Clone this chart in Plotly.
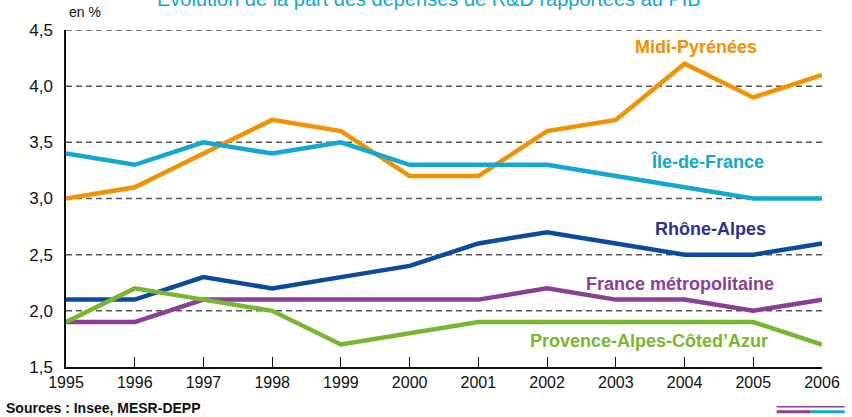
import plotly.graph_objects as go

years = [1995, 1996, 1997, 1998, 1999, 2000, 2001, 2002, 2003, 2004, 2005, 2006]
midi_pyrenees = [3.0, 3.1, 3.4, 3.7, 3.6, 3.2, 3.2, 3.6, 3.7, 4.2, 3.9, 4.1]
ile_de_france = [3.4, 3.3, 3.5, 3.4, 3.5, 3.3, 3.3, 3.3, 3.2, 3.1, 3.0, 3.0]
rhone_alpes = [2.1, 2.1, 2.3, 2.2, 2.3, 2.4, 2.6, 2.7, 2.6, 2.5, 2.5, 2.6]
france_metro = [1.9, 1.9, 2.1, 2.1, 2.1, 2.1, 2.1, 2.2, 2.1, 2.1, 2.0, 2.1]
paca = [1.9, 2.2, 2.1, 2.0, 1.7, 1.8, 1.9, 1.9, 1.9, 1.9, 1.9, 1.7]

y_ticks = [1.5, 2.0, 2.5, 3.0, 3.5, 4.0, 4.5]
y_tick_labels = ["1,5", "2,0", "2,5", "3,0", "3,5", "4,0", "4,5"]

series = [
    ("Midi-Pyrénées", midi_pyrenees, "#F39200", "#F39200", 2004.17, 4.35),
    ("Île-de-France", ile_de_france, "#13A8CF", "#13A8CF", 2004.33, 3.33),
    ("Rhône-Alpes", rhone_alpes, "#0A4BA0", "#2E3192", 2004.38, 2.73),
    ("France métropolitaine", france_metro, "#8B3F97", "#8B3F97", 2003.93, 2.24),
    ("Provence-Alpes-Côted’Azur", paca, "#7AB730", "#7AB730", 2003.48, 1.73),
]

FONT = "Liberation Sans, Arial, sans-serif"

fig = go.Figure()
for name, vals, color, lcolor, lx, ly in series:
    fig.add_trace(go.Scatter(x=years, y=vals, mode="lines", name=name,
                             line=dict(color=color, width=4.5), showlegend=False))
    fig.add_annotation(x=lx, y=ly, text="<b>" + name + "</b>", showarrow=False,
                       font=dict(family=FONT, size=18, color=lcolor),
                       xanchor="center", yanchor="middle")

# dashed horizontal grid lines
for v in y_ticks[1:]:
    fig.add_shape(type="line", xref="paper", x0=0, x1=1, yref="y", y0=v, y1=v,
                  line=dict(color="#555555", width=1.5, dash="6px,4px"), layer="below")

fig.add_annotation(xref="paper", yref="paper", x=0.48, y=1.093,
                   text="Évolution de la part des dépenses de R&D rapportées au PIB",
                   showarrow=False, font=dict(family=FONT, size=20, color="#13A8CF"),
                   xanchor="center", yanchor="middle")
fig.add_annotation(xref="paper", yref="paper", x=0.001, y=1.025,
                   text="en %", showarrow=False,
                   font=dict(family=FONT, size=14, color="#111111"),
                   xanchor="left", yanchor="bottom")
fig.add_annotation(xref="paper", yref="paper", x=-0.082, y=-0.093,
                   text="<b>Sources : Insee, MESR-DEPP</b>", showarrow=False,
                   font=dict(family=FONT, size=14, color="#111111"),
                   xanchor="left", yanchor="top")

# decorative bottom-right rules
fig.add_shape(type="line", xref="paper", yref="paper", x0=0.94, x1=1.03, y0=-0.118, y1=-0.118,
              line=dict(color="#8B3F97", width=1.5))
fig.add_shape(type="line", xref="paper", yref="paper", x0=0.94, x1=0.985, y0=-0.133, y1=-0.133,
              line=dict(color="#8B3F97", width=3))
fig.add_shape(type="line", xref="paper", yref="paper", x0=0.985, x1=1.03, y0=-0.133, y1=-0.133,
              line=dict(color="#13A8CF", width=3))

fig.update_layout(
    width=852, height=417,
    margin=dict(l=66, r=21, t=30, b=50),
    paper_bgcolor="white", plot_bgcolor="white",
    font=dict(family=FONT, color="#111111"),
    xaxis=dict(range=[1995, 2006], tickvals=years, ticktext=[str(y) for y in years],
               showgrid=False, zeroline=False, showline=True, linecolor="#111111", linewidth=1.5,
               ticks="inside", ticklen=10, tickcolor="#111111", tickwidth=1,
               tickfont=dict(family=FONT, size=16, color="#111111")),
    yaxis=dict(range=[1.5, 4.5], tickvals=y_ticks, ticktext=y_tick_labels,
               showgrid=False, zeroline=False, showline=True, linecolor="#111111", linewidth=1.5,
               ticks="", ticklabelstandoff=8,
               tickfont=dict(family=FONT, size=17, color="#111111")),
)

fig.write_html("out.html", config={"displayModeBar": False},
               post_script="document.body.style.margin='0';document.body.style.overflow='hidden';")
